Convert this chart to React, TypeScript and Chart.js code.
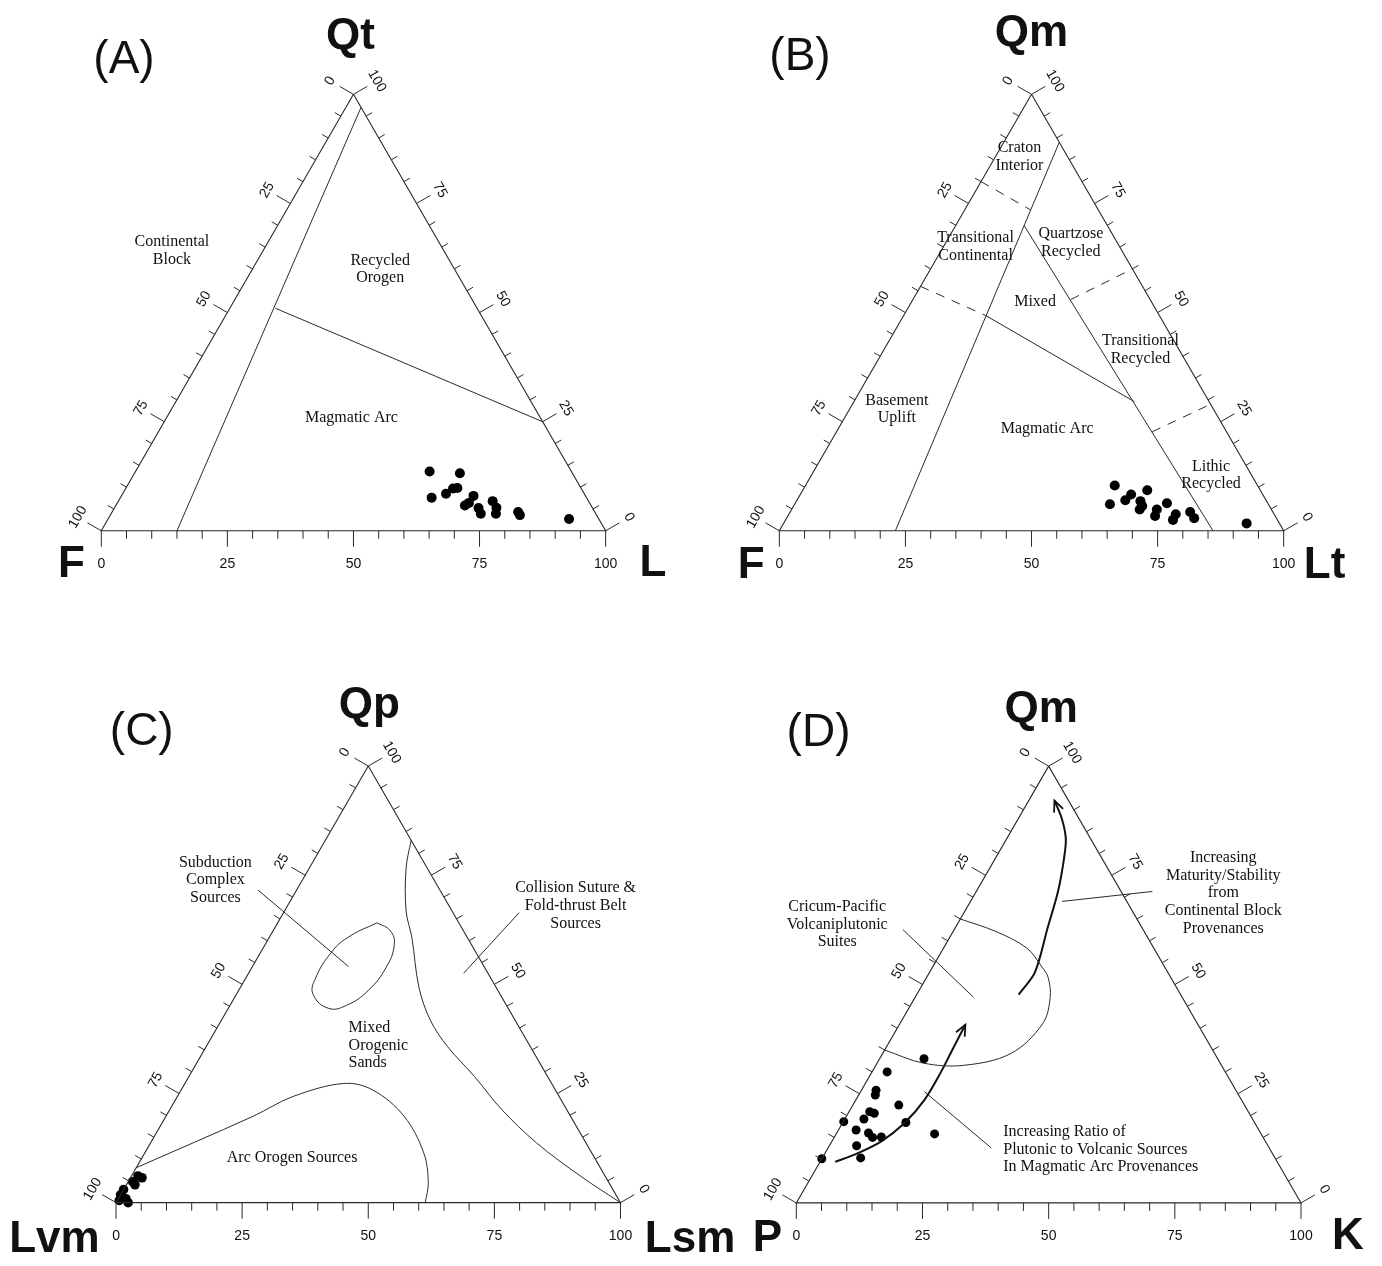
import React, { useEffect, useRef } from 'react';
import { Chart, registerables } from 'chart.js';

Chart.register(...registerables);

type T3 = [number, number, number]; // [top, left-corner, right-corner] in %
type UV = [number, number];

// ---------------- DATA ----------------
const TICK_VALUES = [0, 25, 50, 75, 100];
const TICK_LABELS = ['0', '25', '50', '75', '100'];

// (A) Qt - F - L
const A_SAMPLES: T3[] = [
  [13.6, 28.1, 58.3], [13.2, 22.3, 64.5], [7.6, 30.7, 61.7], [8.5, 27.4, 64.1],
  [9.7, 25.4, 64.9], [9.8, 24.5, 65.7], [8.0, 22.2, 69.8], [5.8, 25.0, 69.2],
  [6.4, 23.9, 69.7], [5.2, 22.6, 72.2], [3.9, 22.8, 73.3], [6.8, 19.0, 74.2],
  [5.3, 19.0, 75.7], [3.9, 19.8, 76.3], [4.3, 15.2, 80.5], [3.6, 15.2, 81.2],
  [2.7, 5.9, 91.4],
];
const A_CONTINENTAL_LINE: T3[] = [[97, 0, 3], [0, 85, 15]];
const A_ARC_LINE: T3[] = [[51, 40, 9], [25, 0, 75]];

// (B) Qm - F - Lt
const B_SAMPLES: T3[] = [
  [10.4, 28.3, 61.3], [8.3, 26.1, 65.6], [9.3, 22.4, 68.3], [6.1, 31.4, 62.5],
  [7.0, 27.9, 65.1], [6.8, 25.0, 68.2], [5.7, 25.2, 69.1], [4.9, 26.1, 69.0],
  [4.9, 22.7, 72.4], [3.4, 23.8, 72.8], [6.3, 20.0, 73.7], [3.8, 19.5, 76.7],
  [2.5, 20.7, 76.8], [4.3, 16.4, 79.3], [2.9, 16.3, 80.8], [1.7, 6.5, 91.8],
];
const B_CONTINENTAL_LINE: T3[] = [[89, 0, 11], [0, 77, 23]];
const B_RECYCLED_LINE: T3[] = [[70, 16.5, 13.5], [0, 14, 86]];
const B_ARC_LINE: T3[] = [[49.3, 34.4, 16.3], [29.6, 14.8, 55.6]];
const B_DASH_CRATON: T3[] = [[80, 20, 0], [73.5, 13.4, 13.1]];
const B_DASH_BASEMENT: T3[] = [[56, 44, 0], [49.3, 34.4, 16.3]];
const B_DASH_QUARTZOSE: T3[] = [[53, 15.7, 31.3], [60, 0, 40]];
const B_DASH_LITHIC: T3[] = [[22.7, 14.7, 62.6], [29, 0, 71]];

// (C) Qp - Lvm - Lsm
const C_SAMPLES: T3[] = [
  [6.1, 92.6, 1.3], [5.7, 92.0, 2.3], [4.8, 94.3, 0.9], [4.1, 94.2, 1.7],
  [3.0, 97.0, 0], [1.8, 98.2, 0], [0.9, 97.6, 1.5], [0.5, 99.1, 0.4], [0, 97.6, 2.4],
];
const C_SUBDUCTION_FIELD: T3[] = [
  [64.1, 16.2, 19.7], [62.3, 14.5, 23.2], [59.1, 15.3, 25.6], [53.9, 19.5, 26.6],
  [48.6, 25.7, 25.7], [45.2, 31.7, 23.1], [44.5, 35.6, 19.9], [47.5, 37.1, 15.4],
  [50.9, 35.2, 13.9], [57.7, 28.2, 14.1], [61.1, 23.0, 15.9], [64.1, 16.2, 19.7],
];
const C_COLLISION_BOUNDARY: T3[] = [
  [83, 0, 17], [76.6, 4.2, 19.2], [66.8, 9.1, 24.1], [60.7, 11.0, 28.3],
  [49.3, 15.3, 35.4], [41.8, 16.8, 41.4], [35.7, 16.4, 47.9], [28.9, 14.5, 56.6],
  [21.4, 12.9, 65.7], [13.7, 9.8, 76.5], [6.1, 4.9, 89.0], [0, 0, 100],
];
const C_ARC_BOUNDARY: T3[] = [
  [8, 92, 0], [19.8, 62.9, 17.3], [24.3, 52.8, 22.9], [27.3, 41.2, 31.5],
  [25.8, 36.2, 38.0], [19.8, 33.0, 47.2], [11.4, 33.3, 55.3], [4.6, 35.8, 59.6],
  [0, 38.7, 61.3],
];

// (D) Qm - P - K
const D_SAMPLES: T3[] = [
  [33.0, 58.2, 8.8], [30.0, 67.0, 3.0], [25.8, 71.3, 2.9], [24.7, 72.0, 3.3],
  [22.4, 68.4, 9.1], [20.9, 75.0, 4.1], [20.5, 74.3, 5.2], [19.2, 77.0, 3.8],
  [18.6, 81.3, 0.1], [18.4, 69.1, 12.5], [16.7, 79.8, 3.5], [16.0, 77.7, 6.3],
  [15.0, 77.4, 7.6], [15.1, 75.6, 9.3], [15.8, 64.7, 19.5], [13.1, 81.5, 5.4],
  [10.1, 89.9, 0], [10.3, 82.1, 7.6],
];
const D_PACIFIC_FIELD: T3[] = [
  [65, 35, 0], [62.2, 29.5, 8.3], [58.4, 25.2, 16.4], [53.9, 24.3, 21.8],
  [51.6, 24.3, 24.1], [47.0, 26.2, 26.8], [41.0, 30.7, 28.3], [34.2, 40.4, 25.4],
  [31.5, 51.1, 17.4], [32.0, 58.8, 9.2], [35, 65, 0],
];
const D_PLUTONIC_ARROW: T3[] = [
  [9.4, 87.6, 3.0], [11.4, 82.1, 6.5], [14.1, 76.1, 9.8], [18.3, 69.4, 12.3],
  [23.6, 62.8, 13.6], [29.6, 56.7, 13.7], [34.9, 51.7, 13.4], [40.8, 46.1, 13.1],
];
const D_MATURITY_ARROW: T3[] = [
  [47.7, 32.1, 20.2], [52.7, 26.4, 20.9], [63.0, 18.7, 18.3], [71.3, 12.5, 16.2],
  [78.9, 7.5, 13.6], [83.4, 4.9, 11.7], [88.0, 3.4, 8.6], [92.1, 2.8, 5.1],
];

// ---------------- LAYOUT / STYLE ----------------
const W = 1382;
const H = 1266;
const K = 5.08; // px per percent along the base
const SQ = Math.sqrt(3) / 2;
const INK = '#111';
const LINE = '#2a2a2a';
const SANS = '"Liberation Sans", Arial, Helvetica, sans-serif';
const SERIF = '"Liberation Serif", "Times New Roman", serif';

type Label = { lines: string[]; u: number; v: number; align?: 'left' | 'center' };
type Curve = { pts: T3[]; dash?: boolean; tension?: number; width?: number; arrow?: boolean };
type PanelCfg = {
  id: string; bl: number; by: number;
  vertices: { text: string; u: number; v: number }[];
  letter: { text: string; u: number; v: number };
  labels: Label[];
  curves: Curve[];
  leaders: UV[][];
  samples: T3[];
  dot: number;
};

const PANELS: PanelCfg[] = [
  {
    id: 'A', bl: 97, by: 530,
    vertices: [{ text: 'Qt', u: 49.4, v: 98.0 }, { text: 'F', u: -5.9, v: -6.7 }, { text: 'L', u: 109.4, v: -6.5 }],
    letter: { text: '(A)', u: 4.5, v: 93.3 },
    labels: [
      { lines: ['Continental', 'Block'], u: 14.0, v: 55.6 },
      { lines: ['Recycled', 'Orogen'], u: 55.3, v: 51.9 },
      { lines: ['Magmatic Arc'], u: 49.6, v: 22.4 },
    ],
    curves: [{ pts: A_CONTINENTAL_LINE }, { pts: A_ARC_LINE }],
    leaders: [],
    samples: A_SAMPLES, dot: 5,
  },
  {
    id: 'B', bl: 780, by: 530,
    vertices: [{ text: 'Qm', u: 50.0, v: 98.6 }, { text: 'F', u: -5.6, v: -6.9 }, { text: 'Lt', u: 108.1, v: -7.0 }],
    letter: { text: '(B)', u: 4.1, v: 94.0 },
    labels: [
      { lines: ['Craton', 'Interior'], u: 47.6, v: 74.2 },
      { lines: ['Transitional', 'Continental'], u: 38.9, v: 56.4 },
      { lines: ['Quartzose', 'Recycled'], u: 57.8, v: 57.1 },
      { lines: ['Mixed'], u: 50.7, v: 45.5 },
      { lines: ['Transitional', 'Recycled'], u: 71.6, v: 35.9 },
      { lines: ['Basement', 'Uplift'], u: 23.3, v: 24.1 },
      { lines: ['Magmatic Arc'], u: 53.1, v: 20.2 },
      { lines: ['Lithic', 'Recycled'], u: 85.6, v: 11.0 },
    ],
    curves: [
      { pts: B_CONTINENTAL_LINE }, { pts: B_RECYCLED_LINE }, { pts: B_ARC_LINE },
      { pts: B_DASH_CRATON, dash: true }, { pts: B_DASH_BASEMENT, dash: true },
      { pts: B_DASH_QUARTZOSE, dash: true }, { pts: B_DASH_LITHIC, dash: true },
    ],
    leaders: [],
    samples: B_SAMPLES, dot: 5,
  },
  {
    id: 'C', bl: 112, by: 1207,
    vertices: [{ text: 'Qp', u: 50.2, v: 98.5 }, { text: 'Lvm', u: -12.2, v: -7.3 }, { text: 'Lsm', u: 113.8, v: -7.3 }],
    letter: { text: '(C)', u: 5.1, v: 93.3 },
    labels: [
      { lines: ['Subduction', 'Complex', 'Sources'], u: 19.7, v: 64.0 },
      { lines: ['Collision Suture &', 'Fold-thrust Belt', 'Sources'], u: 91.1, v: 58.9 },
      { lines: ['Mixed', 'Orogenic', 'Sands'], u: 46.1, v: 31.2, align: 'left' },
      { lines: ['Arc Orogen Sources'], u: 34.9, v: 8.8 },
    ],
    curves: [
      { pts: C_SUBDUCTION_FIELD, tension: 0.45 },
      { pts: C_COLLISION_BOUNDARY, tension: 0.35 },
      { pts: C_ARC_BOUNDARY, tension: 0.35 },
    ],
    leaders: [[[28.15, 62.0], [46.06, 46.85]], [[79.9, 57.5], [68.9, 45.5]]],
    samples: C_SAMPLES, dot: 4.8,
  },
  {
    id: 'D', bl: 797, by: 1207,
    vertices: [{ text: 'Qm', u: 48.5, v: 97.8 }, { text: 'P', u: -5.7, v: -7.1 }, { text: 'K', u: 109.3, v: -6.7 }],
    letter: { text: '(D)', u: 4.4, v: 93.1 },
    labels: [
      { lines: ['Cricum-Pacific', 'Volcaniplutonic', 'Suites'], u: 8.1, v: 55.2 },
      { lines: ['Increasing', 'Maturity/Stability', 'from', 'Continental Block', 'Provenances'], u: 84.6, v: 61.4 },
      { lines: ['Increasing Ratio of', 'Plutonic to Volcanic Sources', 'In Magmatic Arc Provenances'], u: 41.0, v: 10.6, align: 'left' },
    ],
    curves: [
      { pts: D_PACIFIC_FIELD, tension: 0.35 },
      { pts: D_PLUTONIC_ARROW, tension: 0.3, width: 2, arrow: true },
      { pts: D_MATURITY_ARROW, tension: 0.3, width: 2, arrow: true },
    ],
    leaders: [
      [[21.12, 54.19], [35.14, 40.75]],
      [[52.66, 59.78], [70.55, 61.75]],
      [[25.39, 22.05], [38.64, 10.89]],
    ],
    samples: D_SAMPLES, dot: 4.5,
  },
];

const OUTLINE: T3[] = [[100, 0, 0], [0, 100, 0], [0, 0, 100], [100, 0, 0]];

const toXY = (t: T3) => ({ x: t[2] + t[0] / 2, y: t[0] * SQ });

function makeDecor(cfg: PanelCfg) {
  return {
    id: 'decor' + cfg.id,
    afterDatasetsDraw(chart: any) {
      const ctx: CanvasRenderingContext2D = chart.ctx;
      const xs = chart.scales.x;
      const ys = chart.scales.y;
      const px = (u: number, v: number): [number, number] => [xs.getPixelForValue(u), ys.getPixelForValue(v)];
      const tp = (t: T3) => { const p = toXY(t); return px(p.x, p.y); };
      const seg = (x1: number, y1: number, x2: number, y2: number) => {
        ctx.beginPath(); ctx.moveTo(x1, y1); ctx.lineTo(x2, y2); ctx.stroke();
      };
      ctx.save();
      ctx.strokeStyle = LINE;
      ctx.lineWidth = 1;
      // ticks
      for (let i = 0; i <= 100; i += 5) {
        const major = i % 25 === 0;
        const lb = major ? 16 : 8;
        const ls = major ? 16 : 7;
        let [x, y] = tp([0, 100 - i, i]);
        seg(x, y, x, y + lb);
        [x, y] = tp([100 - i, i, 0]);
        seg(x, y, x - SQ * ls, y - 0.5 * ls);
        [x, y] = tp([i, 0, 100 - i]);
        seg(x, y, x + SQ * ls, y - 0.5 * ls);
      }
      // tick labels
      ctx.fillStyle = INK;
      ctx.font = '14px ' + SANS;
      ctx.textAlign = 'center';
      ctx.textBaseline = 'middle';
      TICK_VALUES.forEach((val, j) => {
        const txt = TICK_LABELS[j];
        let [x, y] = tp([0, 100 - val, val]);
        ctx.fillText(txt, x, y + 33);
        [x, y] = tp([100 - val, val, 0]);
        ctx.save();
        ctx.translate(x - SQ * 27, y - 0.5 * 27);
        ctx.rotate(-Math.PI / 3);
        ctx.fillText(txt, 0, 0);
        ctx.restore();
        [x, y] = tp([val, 0, 100 - val]);
        ctx.save();
        ctx.translate(x + SQ * 27, y - 0.5 * 27);
        ctx.rotate(Math.PI / 3);
        ctx.fillText(txt, 0, 0);
        ctx.restore();
      });
      // vertex labels
      ctx.font = 'bold 44px ' + SANS;
      cfg.vertices.forEach((vl) => {
        const [x, y] = px(vl.u, vl.v);
        ctx.fillText(vl.text, x, y);
      });
      ctx.font = '46px ' + SANS;
      {
        const [x, y] = px(cfg.letter.u, cfg.letter.v);
        ctx.fillText(cfg.letter.text, x, y);
      }
      // region labels
      ctx.font = '16px ' + SERIF;
      const LH = 17.6;
      cfg.labels.forEach((lb) => {
        const [x, y] = px(lb.u, lb.v);
        ctx.textAlign = lb.align === 'left' ? 'left' : 'center';
        const y0 = y - ((lb.lines.length - 1) / 2) * LH;
        lb.lines.forEach((ln, k) => ctx.fillText(ln, x, y0 + k * LH));
      });
      // arrowheads
      ctx.strokeStyle = INK;
      ctx.lineWidth = 1.8;
      cfg.curves.forEach((c) => {
        if (!c.arrow) return;
        const [x1, y1] = tp(c.pts[c.pts.length - 2]);
        const [x2, y2] = tp(c.pts[c.pts.length - 1]);
        const a = Math.atan2(y2 - y1, x2 - x1);
        const L = 12;
        const s = 0.42;
        ctx.beginPath();
        ctx.moveTo(x2 - L * Math.cos(a - s), y2 - L * Math.sin(a - s));
        ctx.lineTo(x2, y2);
        ctx.lineTo(x2 - L * Math.cos(a + s), y2 - L * Math.sin(a + s));
        ctx.stroke();
      });
      ctx.restore();
    },
  };
}

function Panel({ cfg }: { cfg: PanelCfg }) {
  const ref = useRef<HTMLCanvasElement | null>(null);
  useEffect(() => {
    if (!ref.current) return;
    const lineDs = (pts: { x: number; y: number }[], extra: any = {}) => ({
      data: pts,
      showLine: true,
      pointRadius: 0,
      borderColor: LINE,
      borderWidth: 1,
      fill: false,
      tension: 0,
      ...extra,
    });
    const datasets: any[] = [];
    datasets.push(lineDs(OUTLINE.map(toXY), { borderWidth: 1.1 }));
    cfg.curves.forEach((c) => {
      datasets.push(lineDs(c.pts.map(toXY), {
        tension: c.tension ?? 0,
        borderDash: c.dash ? [9, 8] : [],
        borderWidth: c.width ?? 1,
        borderColor: c.arrow ? INK : LINE,
      }));
    });
    cfg.leaders.forEach((ld) => {
      datasets.push(lineDs(ld.map(([u, v]) => ({ x: u, y: v }))));
    });
    datasets.push({
      data: cfg.samples.map(toXY),
      showLine: false,
      pointRadius: cfg.dot,
      pointBackgroundColor: '#000',
      pointBorderWidth: 0,
      borderWidth: 0,
    });
    const chart = new Chart(ref.current, {
      type: 'scatter',
      data: { datasets },
      options: {
        animation: false,
        responsive: false,
        devicePixelRatio: 1,
        events: [],
        layout: { padding: 0 },
        plugins: { legend: { display: false }, tooltip: { enabled: false } },
        scales: {
          x: { type: 'linear', display: false, min: -cfg.bl / K, max: (W - cfg.bl) / K },
          y: { type: 'linear', display: false, min: -(H - cfg.by) / K, max: cfg.by / K },
        },
      },
      plugins: [makeDecor(cfg)],
    } as any);
    return () => chart.destroy();
  }, [cfg]);
  return (
    <canvas
      ref={ref}
      width={W}
      height={H}
      style={{ position: 'absolute', left: 0, top: 0, width: W, height: H, display: 'block' }}
    />
  );
}

export default function App() {
  return (
    <div style={{ position: 'absolute', left: 0, top: 0, width: W, height: H, background: '#fff', overflow: 'hidden' }}>
      {PANELS.map((p) => <Panel key={p.id} cfg={p} />)}
    </div>
  );
}
